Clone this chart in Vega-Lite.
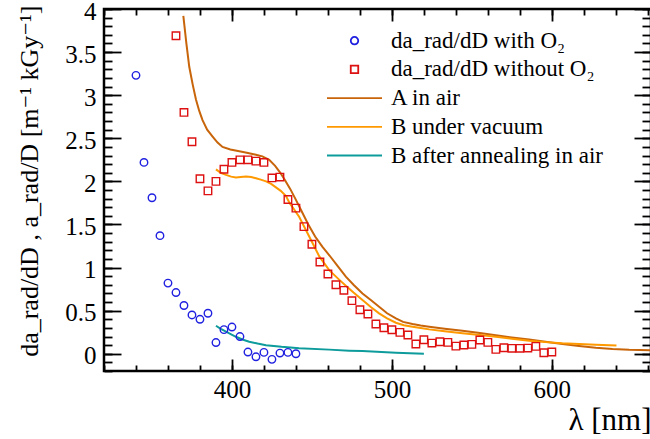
{
  "$schema": "https://vega.github.io/schema/vega-lite/v6.json",
  "width": 547,
  "height": 362,
  "autosize": {"type": "none"},
  "padding": {"left": 104, "top": 9, "right": 0, "bottom": 68},
  "background": "white",
  "config": {
    "view": {"stroke": "black", "strokeWidth": 2.5},
    "font": "Liberation Serif, Times New Roman, DejaVu Serif, serif",
    "axis": {
      "domain": false,
      "grid": false,
      "tickColor": "black",
      "tickWidth": 1.8,
      "labelOverlap": false,
      "labelFont": "Liberation Serif, Times New Roman, DejaVu Serif, serif",
      "labelFontSize": 25,
      "labelColor": "black",
      "titleFont": "Liberation Serif, Times New Roman, DejaVu Serif, serif",
      "titleFontSize": 31,
      "titleFontWeight": "normal",
      "titleColor": "black"
    },
    "legend": {
      "labelFont": "Liberation Serif, Times New Roman, DejaVu Serif, serif",
      "labelFontSize": 23,
      "labelColor": "black",
      "labelLimit": 500
    }
  },
  "datasets": {
    "o2": [
      {"series": "da_rad/dD with O₂", "lambda": 340, "value": 3.23},
      {"series": "da_rad/dD with O₂", "lambda": 345, "value": 2.22},
      {"series": "da_rad/dD with O₂", "lambda": 350, "value": 1.81},
      {"series": "da_rad/dD with O₂", "lambda": 355, "value": 1.37},
      {"series": "da_rad/dD with O₂", "lambda": 360, "value": 0.82},
      {"series": "da_rad/dD with O₂", "lambda": 365, "value": 0.71},
      {"series": "da_rad/dD with O₂", "lambda": 370, "value": 0.56},
      {"series": "da_rad/dD with O₂", "lambda": 375, "value": 0.45},
      {"series": "da_rad/dD with O₂", "lambda": 380, "value": 0.40},
      {"series": "da_rad/dD with O₂", "lambda": 385, "value": 0.47},
      {"series": "da_rad/dD with O₂", "lambda": 390, "value": 0.13},
      {"series": "da_rad/dD with O₂", "lambda": 395, "value": 0.28},
      {"series": "da_rad/dD with O₂", "lambda": 400, "value": 0.31},
      {"series": "da_rad/dD with O₂", "lambda": 405, "value": 0.20},
      {"series": "da_rad/dD with O₂", "lambda": 410, "value": 0.02},
      {"series": "da_rad/dD with O₂", "lambda": 415, "value": -0.035},
      {"series": "da_rad/dD with O₂", "lambda": 420, "value": 0.016},
      {"series": "da_rad/dD with O₂", "lambda": 425, "value": -0.065},
      {"series": "da_rad/dD with O₂", "lambda": 430, "value": 0.008},
      {"series": "da_rad/dD with O₂", "lambda": 435, "value": 0.016},
      {"series": "da_rad/dD with O₂", "lambda": 440, "value": 0.0}
    ],
    "noo2": [
      {"series": "da_rad/dD without O₂", "lambda": 365, "value": 3.69},
      {"series": "da_rad/dD without O₂", "lambda": 370, "value": 2.80},
      {"series": "da_rad/dD without O₂", "lambda": 375, "value": 2.46},
      {"series": "da_rad/dD without O₂", "lambda": 380, "value": 2.03},
      {"series": "da_rad/dD without O₂", "lambda": 385, "value": 1.89},
      {"series": "da_rad/dD without O₂", "lambda": 390, "value": 2.0},
      {"series": "da_rad/dD without O₂", "lambda": 395, "value": 2.14},
      {"series": "da_rad/dD without O₂", "lambda": 400, "value": 2.22},
      {"series": "da_rad/dD without O₂", "lambda": 405, "value": 2.25},
      {"series": "da_rad/dD without O₂", "lambda": 410, "value": 2.25},
      {"series": "da_rad/dD without O₂", "lambda": 415, "value": 2.235},
      {"series": "da_rad/dD without O₂", "lambda": 420, "value": 2.22},
      {"series": "da_rad/dD without O₂", "lambda": 425, "value": 2.04},
      {"series": "da_rad/dD without O₂", "lambda": 430, "value": 2.05},
      {"series": "da_rad/dD without O₂", "lambda": 435, "value": 1.79},
      {"series": "da_rad/dD without O₂", "lambda": 440, "value": 1.69},
      {"series": "da_rad/dD without O₂", "lambda": 445, "value": 1.475},
      {"series": "da_rad/dD without O₂", "lambda": 450, "value": 1.27},
      {"series": "da_rad/dD without O₂", "lambda": 455, "value": 1.065},
      {"series": "da_rad/dD without O₂", "lambda": 460, "value": 0.926},
      {"series": "da_rad/dD without O₂", "lambda": 465, "value": 0.80},
      {"series": "da_rad/dD without O₂", "lambda": 470, "value": 0.736},
      {"series": "da_rad/dD without O₂", "lambda": 475, "value": 0.616},
      {"series": "da_rad/dD without O₂", "lambda": 480, "value": 0.511},
      {"series": "da_rad/dD without O₂", "lambda": 485, "value": 0.461},
      {"series": "da_rad/dD without O₂", "lambda": 490, "value": 0.345},
      {"series": "da_rad/dD without O₂", "lambda": 495, "value": 0.302},
      {"series": "da_rad/dD without O₂", "lambda": 500, "value": 0.279},
      {"series": "da_rad/dD without O₂", "lambda": 505, "value": 0.248},
      {"series": "da_rad/dD without O₂", "lambda": 510, "value": 0.217},
      {"series": "da_rad/dD without O₂", "lambda": 515, "value": 0.113},
      {"series": "da_rad/dD without O₂", "lambda": 520, "value": 0.163},
      {"series": "da_rad/dD without O₂", "lambda": 525, "value": 0.124},
      {"series": "da_rad/dD without O₂", "lambda": 530, "value": 0.14},
      {"series": "da_rad/dD without O₂", "lambda": 535, "value": 0.132},
      {"series": "da_rad/dD without O₂", "lambda": 540, "value": 0.089},
      {"series": "da_rad/dD without O₂", "lambda": 545, "value": 0.101},
      {"series": "da_rad/dD without O₂", "lambda": 550, "value": 0.109},
      {"series": "da_rad/dD without O₂", "lambda": 555, "value": 0.159},
      {"series": "da_rad/dD without O₂", "lambda": 560, "value": 0.132},
      {"series": "da_rad/dD without O₂", "lambda": 565, "value": 0.051},
      {"series": "da_rad/dD without O₂", "lambda": 570, "value": 0.07},
      {"series": "da_rad/dD without O₂", "lambda": 575, "value": 0.063},
      {"series": "da_rad/dD without O₂", "lambda": 580, "value": 0.063},
      {"series": "da_rad/dD without O₂", "lambda": 585, "value": 0.066},
      {"series": "da_rad/dD without O₂", "lambda": 590, "value": 0.086},
      {"series": "da_rad/dD without O₂", "lambda": 595, "value": 0.012},
      {"series": "da_rad/dD without O₂", "lambda": 600, "value": 0.02}
    ],
    "curves": [
      {"series": "A in air", "lambda": 369.6, "value": 3.92},
      {"series": "A in air", "lambda": 371.5, "value": 3.6},
      {"series": "A in air", "lambda": 373.3, "value": 3.33},
      {"series": "A in air", "lambda": 375.5, "value": 3.12},
      {"series": "A in air", "lambda": 377.5, "value": 2.95},
      {"series": "A in air", "lambda": 379.5, "value": 2.82},
      {"series": "A in air", "lambda": 381.6, "value": 2.71},
      {"series": "A in air", "lambda": 384.5, "value": 2.60},
      {"series": "A in air", "lambda": 387.9, "value": 2.52},
      {"series": "A in air", "lambda": 391, "value": 2.45},
      {"series": "A in air", "lambda": 394.1, "value": 2.40},
      {"series": "A in air", "lambda": 399, "value": 2.37},
      {"series": "A in air", "lambda": 404.6, "value": 2.35},
      {"series": "A in air", "lambda": 410, "value": 2.33},
      {"series": "A in air", "lambda": 415, "value": 2.31},
      {"series": "A in air", "lambda": 419, "value": 2.29},
      {"series": "A in air", "lambda": 423.3, "value": 2.25},
      {"series": "A in air", "lambda": 427, "value": 2.18},
      {"series": "A in air", "lambda": 430.6, "value": 2.09},
      {"series": "A in air", "lambda": 433, "value": 2.02},
      {"series": "A in air", "lambda": 436.5, "value": 1.91},
      {"series": "A in air", "lambda": 440, "value": 1.785},
      {"series": "A in air", "lambda": 444.2, "value": 1.63},
      {"series": "A in air", "lambda": 448, "value": 1.49},
      {"series": "A in air", "lambda": 452, "value": 1.36},
      {"series": "A in air", "lambda": 456.6, "value": 1.24},
      {"series": "A in air", "lambda": 461, "value": 1.14},
      {"series": "A in air", "lambda": 466, "value": 1.02},
      {"series": "A in air", "lambda": 471.2, "value": 0.894},
      {"series": "A in air", "lambda": 476, "value": 0.80},
      {"series": "A in air", "lambda": 481.6, "value": 0.70},
      {"series": "A in air", "lambda": 487, "value": 0.62},
      {"series": "A in air", "lambda": 492, "value": 0.546},
      {"series": "A in air", "lambda": 497, "value": 0.47},
      {"series": "A in air", "lambda": 502.5, "value": 0.41},
      {"series": "A in air", "lambda": 507, "value": 0.37},
      {"series": "A in air", "lambda": 512.9, "value": 0.345},
      {"series": "A in air", "lambda": 518, "value": 0.328},
      {"series": "A in air", "lambda": 523.3, "value": 0.314},
      {"series": "A in air", "lambda": 533, "value": 0.29},
      {"series": "A in air", "lambda": 544.1, "value": 0.267},
      {"series": "A in air", "lambda": 555, "value": 0.24},
      {"series": "A in air", "lambda": 565, "value": 0.214},
      {"series": "A in air", "lambda": 575, "value": 0.19},
      {"series": "A in air", "lambda": 585.8, "value": 0.167},
      {"series": "A in air", "lambda": 596, "value": 0.14},
      {"series": "A in air", "lambda": 606.6, "value": 0.113},
      {"series": "A in air", "lambda": 617, "value": 0.09},
      {"series": "A in air", "lambda": 627.5, "value": 0.07},
      {"series": "A in air", "lambda": 638, "value": 0.055},
      {"series": "A in air", "lambda": 648.3, "value": 0.046},
      {"series": "A in air", "lambda": 662, "value": 0.04},
      {"series": "B under vacuum", "lambda": 390, "value": 2.14},
      {"series": "B under vacuum", "lambda": 393, "value": 2.10},
      {"series": "B under vacuum", "lambda": 396.3, "value": 2.075},
      {"series": "B under vacuum", "lambda": 399.5, "value": 2.055},
      {"series": "B under vacuum", "lambda": 402.5, "value": 2.044},
      {"series": "B under vacuum", "lambda": 405.5, "value": 2.05},
      {"series": "B under vacuum", "lambda": 408.8, "value": 2.056},
      {"series": "B under vacuum", "lambda": 412, "value": 2.05},
      {"series": "B under vacuum", "lambda": 415, "value": 2.037},
      {"series": "B under vacuum", "lambda": 418, "value": 2.02},
      {"series": "B under vacuum", "lambda": 421.3, "value": 2.0},
      {"series": "B under vacuum", "lambda": 424.5, "value": 1.97},
      {"series": "B under vacuum", "lambda": 427.5, "value": 1.93},
      {"series": "B under vacuum", "lambda": 430.5, "value": 1.89},
      {"series": "B under vacuum", "lambda": 433.8, "value": 1.83},
      {"series": "B under vacuum", "lambda": 436, "value": 1.75},
      {"series": "B under vacuum", "lambda": 442, "value": 1.59},
      {"series": "B under vacuum", "lambda": 448.3, "value": 1.36},
      {"series": "B under vacuum", "lambda": 454.6, "value": 1.13},
      {"series": "B under vacuum", "lambda": 460.8, "value": 0.97},
      {"series": "B under vacuum", "lambda": 467, "value": 0.86},
      {"series": "B under vacuum", "lambda": 471.2, "value": 0.79},
      {"series": "B under vacuum", "lambda": 476, "value": 0.71},
      {"series": "B under vacuum", "lambda": 481.6, "value": 0.624},
      {"series": "B under vacuum", "lambda": 487, "value": 0.54},
      {"series": "B under vacuum", "lambda": 492, "value": 0.469},
      {"series": "B under vacuum", "lambda": 497, "value": 0.41},
      {"series": "B under vacuum", "lambda": 502.5, "value": 0.36},
      {"series": "B under vacuum", "lambda": 507.5, "value": 0.33},
      {"series": "B under vacuum", "lambda": 512.9, "value": 0.314},
      {"series": "B under vacuum", "lambda": 518, "value": 0.298},
      {"series": "B under vacuum", "lambda": 523.3, "value": 0.283},
      {"series": "B under vacuum", "lambda": 533, "value": 0.26},
      {"series": "B under vacuum", "lambda": 544.1, "value": 0.237},
      {"series": "B under vacuum", "lambda": 555, "value": 0.217},
      {"series": "B under vacuum", "lambda": 565, "value": 0.198},
      {"series": "B under vacuum", "lambda": 575, "value": 0.175},
      {"series": "B under vacuum", "lambda": 585.8, "value": 0.151},
      {"series": "B under vacuum", "lambda": 596, "value": 0.135},
      {"series": "B under vacuum", "lambda": 606.6, "value": 0.121},
      {"series": "B under vacuum", "lambda": 617, "value": 0.112},
      {"series": "B under vacuum", "lambda": 627.5, "value": 0.105},
      {"series": "B under vacuum", "lambda": 640.4, "value": 0.097},
      {"series": "B after annealing in air", "lambda": 390, "value": 0.325},
      {"series": "B after annealing in air", "lambda": 393, "value": 0.29},
      {"series": "B after annealing in air", "lambda": 396.3, "value": 0.256},
      {"series": "B after annealing in air", "lambda": 399.5, "value": 0.225},
      {"series": "B after annealing in air", "lambda": 402.5, "value": 0.197},
      {"series": "B after annealing in air", "lambda": 406.5, "value": 0.165},
      {"series": "B after annealing in air", "lambda": 410.8, "value": 0.14},
      {"series": "B after annealing in air", "lambda": 416, "value": 0.118},
      {"series": "B after annealing in air", "lambda": 421.3, "value": 0.10},
      {"series": "B after annealing in air", "lambda": 431, "value": 0.08},
      {"series": "B after annealing in air", "lambda": 442, "value": 0.063},
      {"series": "B after annealing in air", "lambda": 460.8, "value": 0.048},
      {"series": "B after annealing in air", "lambda": 473.3, "value": 0.036},
      {"series": "B after annealing in air", "lambda": 481.6, "value": 0.031},
      {"series": "B after annealing in air", "lambda": 502.5, "value": 0.012},
      {"series": "B after annealing in air", "lambda": 520, "value": 0.0}
    ]
  },
  "resolve": {"axis": {"x": "independent", "y": "independent"}},
  "layer": [
    {
      "data": {"name": "curves"},
      "mark": {"type": "line", "strokeWidth": 2, "clip": true},
      "encoding": {
        "x": {"field": "lambda", "type": "quantitative",
              "scale": {"domain": [320, 662], "nice": false, "zero": false},
              "axis": {"orient": "top", "values": [400, 500, 600], "labels": false, "tickSize": -12, "title": null}},
        "y": {"field": "value", "type": "quantitative",
              "scale": {"domain": [-0.2, 4], "nice": false, "zero": false},
              "axis": {"orient": "right", "values": [0, 0.5, 1, 1.5, 2, 2.5, 3, 3.5, 4], "labels": false, "tickSize": -17, "title": null}},
        "color": {"field": "series", "type": "nominal"},
        "detail": {"field": "series"}
      }
    },
    {
      "mark": {"type": "rule", "color": "black", "strokeWidth": 1.6},
      "encoding": {
        "x": {"datum": 320, "type": "quantitative",
              "axis": {"orient": "top", "values": [320, 340, 360, 380, 400, 420, 440, 460, 480, 500, 520, 540, 560, 580, 600, 620, 640, 660], "labels": false, "tickSize": -6, "title": null}},
        "x2": {"datum": 662},
        "y": {"datum": 0, "type": "quantitative",
              "axis": {"orient": "right", "values": [-0.2, -0.1, 0, 0.1, 0.2, 0.3, 0.4, 0.5, 0.6, 0.7, 0.8, 0.9, 1, 1.1, 1.2, 1.3, 1.4, 1.5, 1.6, 1.7, 1.8, 1.9, 2, 2.1, 2.2, 2.3, 2.4, 2.5, 2.6, 2.7, 2.8, 2.9, 3, 3.1, 3.2, 3.3, 3.4, 3.5, 3.6, 3.7, 3.8, 3.9, 4], "labels": false, "tickSize": -9, "title": null}}
      }
    },
    {
      "mark": {"type": "rule", "color": "black", "strokeWidth": 1.6},
      "encoding": {
        "x": {"datum": 320, "type": "quantitative",
              "axis": {"orient": "bottom", "values": [400, 500, 600], "ticks": false, "labelPadding": 6, "title": "λ [nm]", "titleFont": "Times New Roman, Liberation Serif, DejaVu Serif, serif", "titleAnchor": "end", "titlePadding": 3}},
        "x2": {"datum": 662},
        "y": {"datum": 0, "type": "quantitative",
              "axis": {"orient": "left", "values": [0, 0.5, 1, 1.5, 2, 2.5, 3, 3.5, 4], "labelExpr": "'' + datum.value", "ticks": false, "labelPadding": 8, "labelOffset": 2, "title": "da_rad/dD , a_rad/D [m⁻¹ kGy⁻¹]", "titleFont": "Times New Roman, Liberation Serif, DejaVu Serif, serif", "titleFontSize": 26, "titleAnchor": "end", "titleY": -4, "titlePadding": 22}}
      }
    },
    {
      "data": {"name": "noo2"},
      "mark": {"type": "point", "filled": false, "size": 56, "strokeWidth": 1.4, "opacity": 1},
      "encoding": {
        "x": {"field": "lambda", "type": "quantitative",
              "axis": {"orient": "bottom", "values": [320, 340, 360, 380, 400, 420, 440, 460, 480, 500, 520, 540, 560, 580, 600, 620, 640, 660], "labels": false, "tickSize": -6, "title": null}},
        "y": {"field": "value", "type": "quantitative",
              "axis": {"orient": "left", "values": [-0.2, -0.1, 0, 0.1, 0.2, 0.3, 0.4, 0.5, 0.6, 0.7, 0.8, 0.9, 1, 1.1, 1.2, 1.3, 1.4, 1.5, 1.6, 1.7, 1.8, 1.9, 2, 2.1, 2.2, 2.3, 2.4, 2.5, 2.6, 2.7, 2.8, 2.9, 3, 3.1, 3.2, 3.3, 3.4, 3.5, 3.6, 3.7, 3.8, 3.9, 4], "labels": false, "tickSize": -8, "title": null}},
        "color": {"field": "series", "type": "nominal",
                  "scale": {"domain": ["da_rad/dD with O₂", "da_rad/dD without O₂", "A in air", "B under vacuum", "B after annealing in air"],
                            "range": ["#2020e0", "#dd1111", "#c8650a", "#ff9900", "#0e9b9b"]},
                  "legend": {"orient": "none", "legendX": 239, "legendY": 20.2, "title": null, "padding": 0, "symbolSize": 56, "symbolStrokeWidth": 1.8, "labelOffset": 25, "rowPadding": 4.7, "labelFontSize": 23, "labelLimit": 500}},
        "shape": {"field": "series", "type": "nominal",
                  "scale": {"domain": ["da_rad/dD with O₂", "da_rad/dD without O₂", "A in air", "B under vacuum", "B after annealing in air"],
                            "range": ["circle", "square", "M-7.35,0L7.35,0", "M-7.35,0L7.35,0", "M-7.35,0L7.35,0"]},
                  "legend": {"orient": "none", "legendX": 239, "legendY": 20.2, "title": null, "padding": 0, "symbolSize": 56, "symbolStrokeWidth": 1.8, "labelOffset": 25, "rowPadding": 4.7, "labelFontSize": 23, "labelLimit": 500}}
      }
    },
    {
      "data": {"name": "o2"},
      "mark": {"type": "point", "filled": false, "size": 56, "strokeWidth": 1.4, "opacity": 1},
      "encoding": {
        "x": {"field": "lambda", "type": "quantitative",
              "axis": {"orient": "bottom", "values": [400, 500, 600], "labels": false, "tickSize": -12, "title": null}},
        "y": {"field": "value", "type": "quantitative",
              "axis": {"orient": "left", "values": [0, 0.5, 1, 1.5, 2, 2.5, 3, 3.5, 4], "labels": false, "tickSize": -17, "title": null}},
        "color": {"field": "series", "type": "nominal"},
        "shape": {"field": "series", "type": "nominal"}
      }
    }
  ]
}
